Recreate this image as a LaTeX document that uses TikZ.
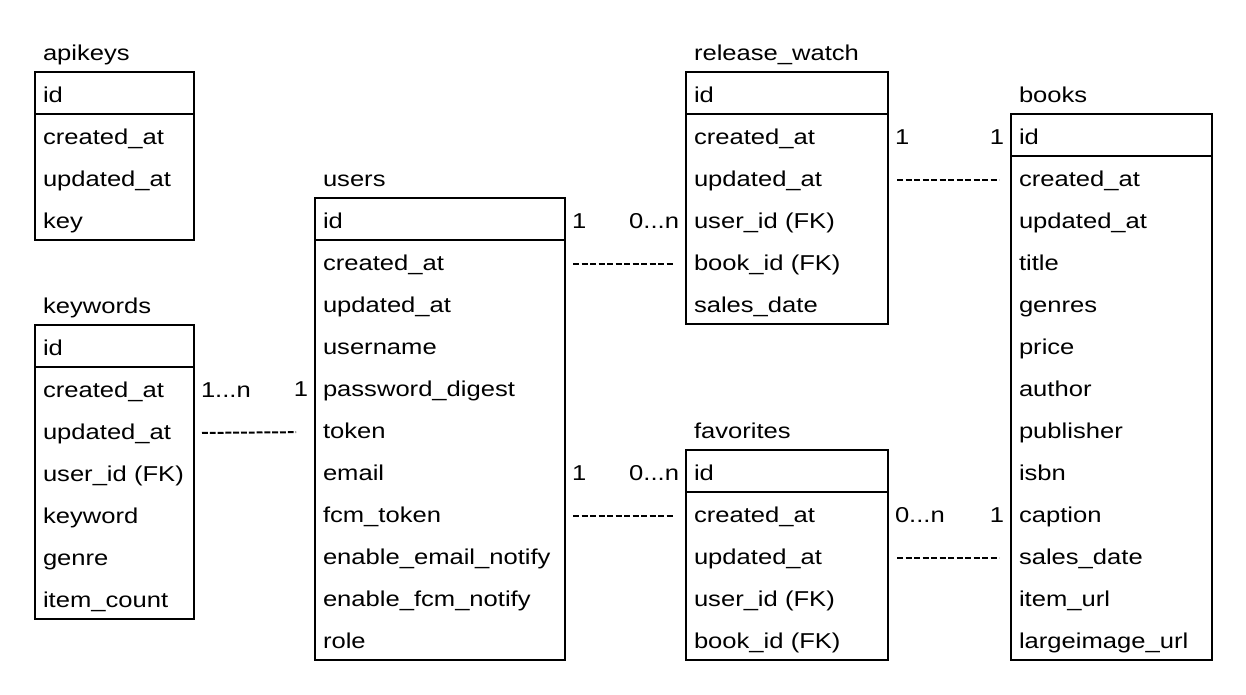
\documentclass[tikz,border=0pt]{standalone}
\usepackage{fontspec}
\setmainfont{Liberation Sans}[FakeStretch=1.19]
\usepackage{tikz}
\usetikzlibrary{calc}
\tikzset{
 field/.style={inner xsep=8pt, inner ysep=0pt, outer sep=0pt, minimum height=42pt, text height=18pt, text depth=0pt, align=left, font=\fontsize{21.5}{26}\selectfont},
 card/.style={inner xsep=7pt, inner ysep=0pt, outer sep=0pt, text height=18pt, text depth=0pt, font=\fontsize{21.5}{26}\selectfont},
 link/.style={line width=2pt, dash pattern=on 6.4pt off 2.1pt, shorten <=8pt, shorten >=13pt, transform canvas={yshift=-3pt}}
}
\newcommand{\erTable}[6]{
 \pgfmathsetlengthmacro{\erW}{#4-16}
 \node[field, text width=\erW, anchor=south west] (#1-title) at (#2,#3) {#5};
 \node[field, text width=\erW, anchor=north west, draw, line width=2pt] (#1-r0) at (#2,#3) {id};
 \foreach \f [count=\i] in {#6} {
  \node[field, text width=\erW, anchor=north] (#1-r\i) at ($(#1-r0.north)+(0,42*\i)$) {\f};
  \xdef\erLast{\i}
 }
 \draw[line width=2pt] (#1-r0.north west) rectangle (#1-r\erLast.south east);
}

\begin{document}
\begin{tikzpicture}[x=1pt, y=-1pt]
\useasboundingbox (0,0) rectangle (1246,694);
\erTable{apikeys}{35}{72}{159}{apikeys}{created\_at, updated\_at, key}
\erTable{keywords}{35}{325}{159}{keywords}{created\_at, updated\_at, user\_id (FK), keyword, genre, item\_count}
\erTable{users}{315}{198}{250}{users}{created\_at, updated\_at, username, password\_digest, token, email, fcm\_token, enable\_email\_notify, enable\_fcm\_notify, role}
\erTable{watch}{686}{72}{202}{release\_watch}{created\_at, updated\_at, user\_id (FK), book\_id (FK), sales\_date}
\erTable{fav}{686}{450}{202}{favorites}{created\_at, updated\_at, user\_id (FK), book\_id (FK)}
\erTable{books}{1011}{114}{201}{books}{created\_at, updated\_at, title, genres, price, author, publisher, isbn, caption, sales\_date, item\_url, largeimage\_url}

\node[card, anchor=west] (ku-many) at (keywords-r1.east) {1...n};
\node[card, anchor=east] (ku-one) at (users-r4.west) {1};
\draw[link, dash pattern=on 5.9pt off 1.9pt, shorten >=19pt] (keywords-r2.east) -- (users-r5.west);

\node[card, anchor=west] (uw-one) at (users-r0.east) {1};
\node[card, anchor=east] (uw-many) at (watch-r3.west) {0...n};
\draw[link] (users-r1.east) -- (watch-r4.west);

\node[card, anchor=west] (uf-one) at (users-r6.east) {1};
\node[card, anchor=east] (uf-many) at (fav-r0.west) {0...n};
\draw[link] (users-r7.east) -- (fav-r1.west);

\node[card, anchor=west] (wb-one) at (watch-r1.east) {1};
\node[card, anchor=east] (wb-two) at (books-r0.west) {1};
\draw[link, shorten <=9pt, shorten >=12pt] (watch-r2.east) -- (books-r1.west);

\node[card, anchor=west] (fb-many) at (fav-r1.east) {0...n};
\node[card, anchor=east] (fb-one) at (books-r9.west) {1};
\draw[link, shorten <=9pt, shorten >=12pt] (fav-r2.east) -- (books-r10.west);
\end{tikzpicture}
\end{document}
